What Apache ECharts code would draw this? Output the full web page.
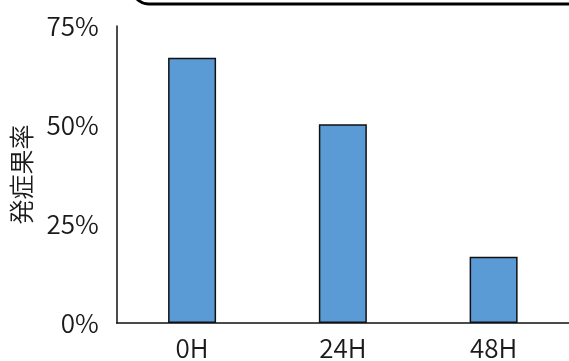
<!DOCTYPE html>
<html><head><meta charset="utf-8">
<script src="https://cdn.jsdelivr.net/npm/echarts@6/dist/echarts.min.js"></script>
<style>html,body{margin:0;padding:0;background:#fff}#c{width:569px;height:361px}</style>
</head><body><div id="c"></div>
<script>
var categories = ['0H', '24H', '48H'];
var values = [0.67, 0.502, 0.167];
var yTicks = [0, 0.25, 0.5, 0.75];
var yAxisName = '発症果率';

var chart = echarts.init(document.getElementById('c'), null, {renderer: 'canvas'});
var font = '"Noto Sans CJK JP", "Noto Sans", sans-serif';
chart.setOption({
  animation: false,
  backgroundColor: '#fff',
  graphic: [{
    type: 'rect', left: 130, top: -40,
    shape: {width: 520, height: 41.5, r: 16},
    style: {fill: 'none', stroke: '#000', lineWidth: 3}
  }],
  grid: {left: 116.7, right: -6.7, top: 26, bottom: 31.7, containLabel: false},
  xAxis: {
    type: 'category', data: categories,
    axisLine: {show: true, lineStyle: {color: '#111', width: 1.5}},
    axisTick: {show: false},
    axisLabel: {color: '#1a1a1a', fontSize: 26, fontWeight: 350, fontFamily: font, margin: 12}
  },
  yAxis: {
    type: 'value', min: 0, max: 0.75, interval: 0.25,
    name: yAxisName, nameLocation: 'middle', nameGap: 83, nameRotate: 90,
    nameTextStyle: {color: '#1a1a1a', fontSize: 25, fontWeight: 350, fontFamily: font},
    splitLine: {show: false},
    axisLine: {show: true, lineStyle: {color: '#111', width: 1.5}},
    axisTick: {show: false},
    axisLabel: {
      formatter: function (v) { return Math.round(v * 100) + '%'; },
      color: '#1a1a1a', fontSize: 26, fontWeight: 350, fontFamily: font, margin: 18
    }
  },
  series: [{
    type: 'bar',
    barWidth: 48,
    data: values,
    itemStyle: {color: '#5B9BD5', borderColor: '#111', borderWidth: 1.5}
  }]
});
</script></body></html>
